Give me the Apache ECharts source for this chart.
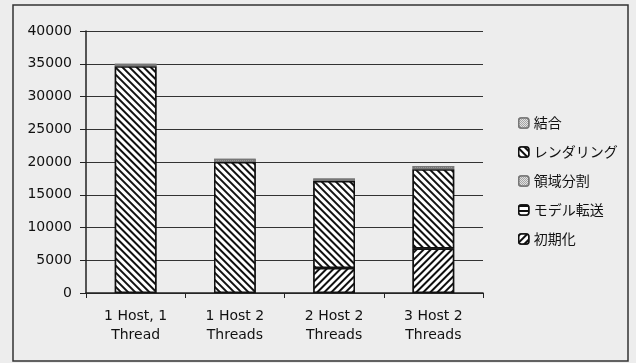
<!DOCTYPE html>
<html><head><meta charset="utf-8">
<script src="https://cdn.jsdelivr.net/npm/echarts@6/dist/echarts.min.js"></script>
<style>html,body{margin:0;padding:0;background:#ededed;}#c{width:636px;height:363px;}</style>
</head><body><div id="c"></div>
<script>
const categories = ['1 Host, 1\nThread', '1 Host 2\nThreads', '2 Host 2\nThreads', '3 Host 2\nThreads'];
const initValues = [0, 0, 3800, 6800];
const transferValues = [0, 0, 0, 0];
const splitValues = [0, 0, 0, 0];
const renderValues = [34600, 20000, 13300, 12100];
const mergeValues = [400, 500, 400, 500];
const yTicks = [0, 5000, 10000, 15000, 20000, 25000, 30000, 35000, 40000];

const chart = echarts.init(document.getElementById('c'));
const font = '"Noto Sans CJK JP", "Liberation Sans", sans-serif';
const numFont = '"DejaVu Sans", sans-serif';
function hatch(rot){
  return {symbol:'rect', symbolSize:1, color:'#111', backgroundColor:'#fff',
    dashArrayX:[1,0], dashArrayY:[2,3], rotation:rot};
}
const dots = {symbol:'rect', symbolSize:1, color:'#888', backgroundColor:'#fff', dashArrayX:[[1,1],[0,1,1,0]], dashArrayY:[1,0]};
function s(name, data, decal, border){
  return {name, type:'bar', stack:'t', data:data.map(v=> v===0 ? '-' : v), barWidth:'42%',
    itemStyle:{color:'#fff', borderColor:border||'#111', borderWidth:1.5, decal},
    emphasis:{disabled:true}};
}
chart.setOption({
  aria:{enabled:false},
  backgroundColor:'#ededed',
  animation:false,
  graphic:[{type:'rect', shape:{x:13,y:5,width:615,height:356}, style:{fill:'none', stroke:'#333', lineWidth:1.5}, z:-1}],
  grid:{left:86, right:153, top:31, bottom:70},
  xAxis:{type:'category', data:categories,
    axisLine:{lineStyle:{color:'#222', width:1.5}},
    axisTick:{show:true, length:5, lineStyle:{color:'#222'}},
    axisLabel:{color:'#111', fontSize:14, fontFamily:numFont, lineHeight:19, margin:14}},
  yAxis:{type:'value', min:0, max:40000, interval:5000,
    axisLine:{show:true, lineStyle:{color:'#222', width:1.5}},
    axisTick:{show:true, length:6, lineStyle:{color:'#222'}},
    splitLine:{lineStyle:{color:'#333', width:1.2}},
    axisLabel:{color:'#111', fontSize:14, fontFamily:numFont, margin:14,
      formatter:v=> yTicks.includes(v) ? String(v) : ''}},
  legend:{orient:'vertical', left:513, top:111, itemWidth:10, itemHeight:10, itemGap:15, itemStyle:{borderWidth:1.5},
    textStyle:{fontSize:14, color:'#111', fontFamily:font},
    data:['結合','レンダリング','領域分割','モデル転送','初期化']},
  series:[
    s('初期化', initValues, hatch(-Math.PI/4)),
    s('モデル転送', transferValues, {symbol:'rect', symbolSize:1, color:'#111', backgroundColor:'#fff', dashArrayX:[1,0], dashArrayY:[2,3], rotation:0}),
    s('領域分割', splitValues, dots, '#777'),
    s('レンダリング', renderValues, hatch(Math.PI/4)),
    s('結合', mergeValues, dots, '#777')
  ]
});
</script></body></html>
